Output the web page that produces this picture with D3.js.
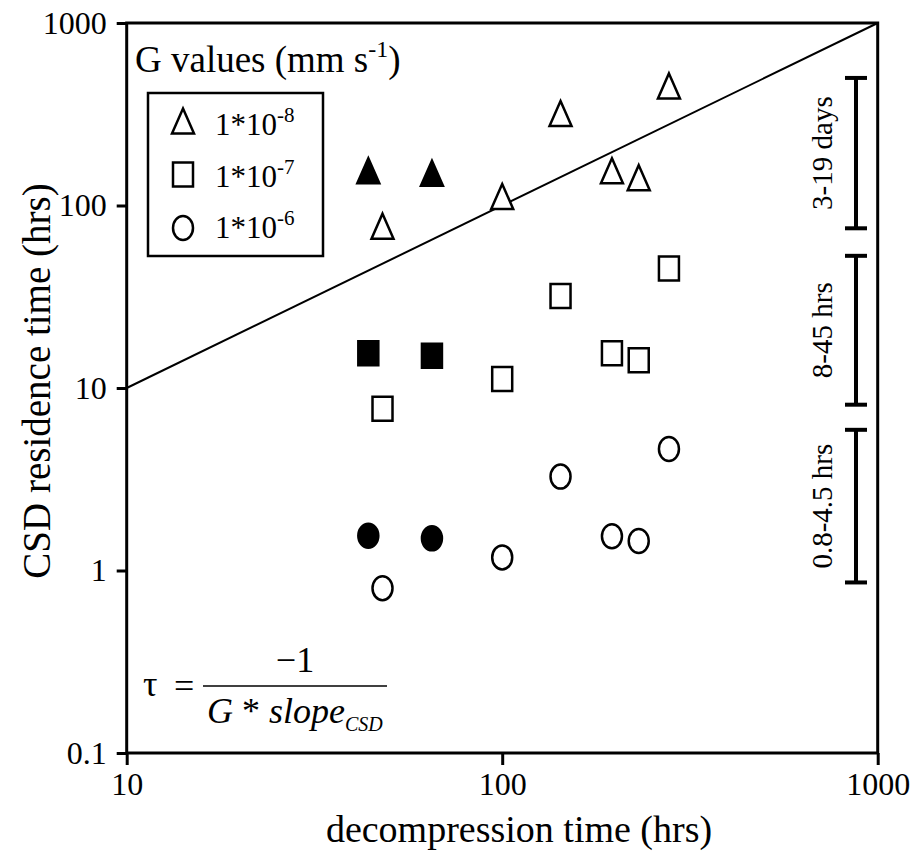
<!DOCTYPE html>
<html>
<head>
<meta charset="utf-8">
<script src="https://cdn.jsdelivr.net/npm/d3@7"></script>
<style>
  body { margin: 0; background: #fff; }
  text { font-family: "Liberation Serif", "Times New Roman", serif; fill: #000; }
</style>
</head>
<body>
<svg id="chart" width="911" height="857"></svg>
<script>
// Decompression time (hrs) of each experiment; the first two are the filled symbols
const decompTime = [44, 65, 48, 100, 143, 196, 231, 278];
const isFilled   = [true, true, false, false, false, false, false, false];

// CSD residence time (hrs) for each growth rate G
const tauG1e8 = [155, 150, 77, 112, 319, 155, 142, 452];
const tauG1e7 = [15.5, 15.0, 7.7, 11.2, 31.9, 15.5, 14.2, 45.2];
const tauG1e6 = [1.55, 1.50, 0.80, 1.18, 3.27, 1.54, 1.45, 4.63];

const seriesShapes = ["triangle", "square", "circle"];
const seriesExponents = ["-8", "-7", "-6"];

const xTicks = [10, 100, 1000];
const yTicks = [0.1, 1, 10, 100, 1000];

// 1:1 reference line
const oneToOne = [10, 1000];

// Residence-time ranges shown by the brackets on the right
const rangeLabels = ["3-19 days", "8-45 hrs", "0.8-4.5 hrs"];
const rangeLow  = [75, 8.1, 0.86];
const rangeHigh = [500, 53, 5.9];

const svg = d3.select("#chart");
const plotLeft = 126.7, plotRight = 877.7, plotTop = 23, plotBottom = 753;

const x = d3.scaleLog().domain([10, 1000]).range([plotLeft, plotRight]);
const y = d3.scaleLog().domain([0.1, 1000]).range([plotBottom, plotTop]);

// axes
const yAxis = d3.axisLeft(y).tickValues(yTicks).tickFormat(d => String(d))
  .tickSize(10).tickPadding(10);
const xAxis = d3.axisBottom(x).tickValues(xTicks).tickFormat(d => String(d))
  .tickSize(12).tickPadding(7);

const gy = svg.append("g").attr("transform", `translate(${plotLeft},0)`).call(yAxis);
const gx = svg.append("g").attr("transform", `translate(0,${plotBottom})`).call(xAxis);
[gx, gy].forEach(g => {
  g.select(".domain").remove();
  g.selectAll(".tick line").attr("stroke", "#000").attr("stroke-width", 3);
  g.selectAll(".tick text").attr("font-size", 32)
    .attr("font-family", '"Liberation Serif", "Times New Roman", serif').attr("fill", "#000");
});

// frame
svg.append("rect")
  .attr("x", plotLeft).attr("y", plotTop)
  .attr("width", plotRight - plotLeft).attr("height", plotBottom - plotTop)
  .attr("fill", "none").attr("stroke", "#000").attr("stroke-width", 3);

// 1:1 line
svg.append("line")
  .attr("x1", x(oneToOne[0])).attr("y1", y(oneToOne[0]))
  .attr("x2", x(oneToOne[1])).attr("y2", y(oneToOne[1]))
  .attr("stroke", "#000").attr("stroke-width", 2);

// marker shapes centred on (cx, cy)
function markerPath(shape, cx, cy) {
  if (shape === "triangle") {
    const hw = 11, hh = 12.5;
    return `M${cx},${cy - hh}L${cx + hw},${cy + hh}L${cx - hw},${cy + hh}Z`;
  }
  if (shape === "square") {
    const hw = 10, hh = 12;
    return `M${cx - hw},${cy - hh}H${cx + hw}V${cy + hh}H${cx - hw}Z`;
  }
  const rx = 10, ry = 12;
  return `M${cx - rx},${cy}A${rx},${ry} 0 1,0 ${cx + rx},${cy}A${rx},${ry} 0 1,0 ${cx - rx},${cy}Z`;
}

const allSeries = [tauG1e8, tauG1e7, tauG1e6];
allSeries.forEach((vals, si) => {
  const pts = vals.map((v, i) => ({ x: decompTime[i], y: v, filled: isFilled[i] }));
  svg.append("g").selectAll("path").data(pts).join("path")
    .attr("d", d => markerPath(seriesShapes[si], x(d.x), y(d.y)))
    .attr("fill", d => d.filled ? "#000" : "#fff")
    .attr("stroke", "#000").attr("stroke-width", 2.5)
    .attr("stroke-linejoin", "miter");
});

// legend
svg.append("text").attr("x", 135).attr("y", 72).attr("font-size", 37)
  .call(t => {
    t.append("tspan").text("G values (mm s");
    t.append("tspan").attr("font-size", 24).attr("dy", -15).text("-1");
    t.append("tspan").attr("dy", 15).text(")");
  });

svg.append("rect").attr("x", 148).attr("y", 93).attr("width", 175).attr("height", 163)
  .attr("fill", "none").attr("stroke", "#000").attr("stroke-width", 2.5);

const legendY = [121, 174.5, 228];
const legendBase = [135, 187, 238];
seriesShapes.forEach((shape, i) => {
  svg.append("path").attr("d", markerPath(shape, 183, legendY[i]))
    .attr("fill", "#fff").attr("stroke", "#000").attr("stroke-width", 2.5);
  svg.append("text").attr("x", 215).attr("y", legendBase[i]).attr("font-size", 31)
    .call(t => {
      t.append("tspan").text("1*10");
      t.append("tspan").attr("font-size", 21).attr("dy", -13).text(seriesExponents[i]);
    });
});

// range brackets
const bx = 856, capHalf = 11;
rangeLabels.forEach((lab, i) => {
  const y1 = y(rangeHigh[i]), y2 = y(rangeLow[i]);
  const g = svg.append("g").attr("stroke", "#000").attr("stroke-width", 4);
  g.append("line").attr("x1", bx).attr("x2", bx).attr("y1", y1).attr("y2", y2);
  g.append("line").attr("x1", bx - capHalf).attr("x2", bx + capHalf).attr("y1", y1).attr("y2", y1);
  g.append("line").attr("x1", bx - capHalf).attr("x2", bx + capHalf).attr("y1", y2).attr("y2", y2);
  const my = (y1 + y2) / 2;
  svg.append("text").attr("transform", `translate(832,${my}) rotate(-90)`)
    .attr("text-anchor", "middle").attr("font-size", 29).text(lab);
});

// residence-time formula
svg.append("text").attr("x", 143).attr("y", 696).attr("font-size", 36).text("τ");
svg.append("text").attr("x", 174).attr("y", 698).attr("font-size", 36).text("=");
svg.append("line").attr("x1", 203).attr("x2", 387).attr("y1", 686).attr("y2", 686)
  .attr("stroke", "#000").attr("stroke-width", 1.5);
svg.append("text").attr("x", 295).attr("y", 672).attr("font-size", 36)
  .attr("text-anchor", "middle").text("\u22121");
svg.append("text").attr("x", 207).attr("y", 723).attr("font-size", 36)
  .call(t => {
    t.append("tspan").attr("font-style", "italic").text("G");
    t.append("tspan").text(" * ");
    t.append("tspan").attr("font-style", "italic").text("slope");
    t.append("tspan").attr("font-style", "italic").attr("font-size", 20).attr("dy", 8).text("CSD");
  });

// axis titles
svg.append("text").attr("x", 519).attr("y", 842).attr("font-size", 38)
  .attr("text-anchor", "middle").text("decompression time (hrs)");
svg.append("text").attr("transform", `translate(50,381) rotate(-90)`)
  .attr("text-anchor", "middle").attr("font-size", 39).text("CSD residence time (hrs)");
</script>
</body>
</html>
